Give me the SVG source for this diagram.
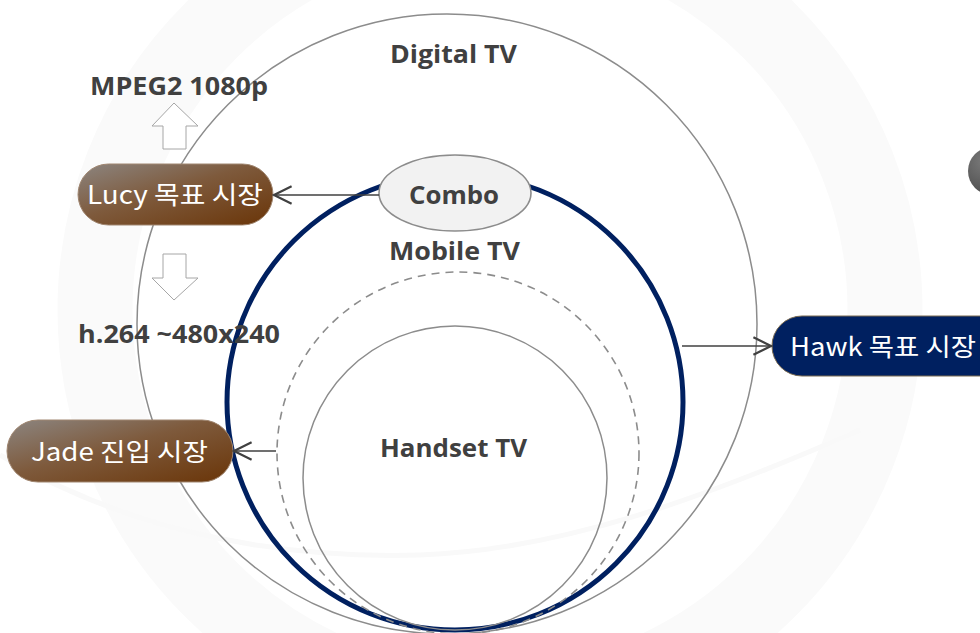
<svg xmlns="http://www.w3.org/2000/svg" width="980" height="633" viewBox="0 0 980 633">
  <defs>
    <linearGradient id="brownFill" x1="0" y1="0" x2="1" y2="1">
      <stop offset="0" stop-color="#8c8580"/>
      <stop offset="0.45" stop-color="#7e5a3c"/>
      <stop offset="1" stop-color="#6a3508"/>
    </linearGradient>
    <radialGradient id="greyBall" cx="0.35" cy="0.3" r="0.8">
      <stop offset="0" stop-color="#7a7a7a"/>
      <stop offset="1" stop-color="#4a4a4a"/>
    </radialGradient>
    <marker id="openHead" viewBox="0 0 20 20" refX="18" refY="10" markerWidth="22" markerHeight="22" markerUnits="userSpaceOnUse" orient="auto">
      <path d="M2,2 L18,10 L2,18" fill="none" stroke="#404040" stroke-width="2"/>
    </marker>
    <style>
      .ring { fill: none; stroke: #8c8c8c; stroke-width: 1.5; }
      .label { font-family: "Open Sans", "Noto Sans", "Noto Sans CJK KR", sans-serif; font-weight: 700; fill: #404040; font-size: 25.5px; }
      .pilltext { font-family: "Noto Sans CJK KR", "Noto Sans", sans-serif; font-weight: 400; fill: #ffffff; font-size: 25px; }
      .block { fill: #ffffff; stroke: #a6a6a6; stroke-width: 1; }
      .link { stroke: #404040; stroke-width: 1.6; fill: none; marker-end: url(#openHead); }
    </style>
  </defs>

  <!-- faint background swooshes -->
  <g id="backdrop" fill="none">
    <circle cx="490" cy="310" r="395" stroke="#fafafa" stroke-width="75"/>
    <path d="M0,455 C110,520 250,560 420,555 C560,550 700,500 860,430" stroke="#f9f9f9" stroke-width="5"/>
  </g>

  <!-- market circles -->
  <g id="digital-tv">
    <circle class="ring" cx="447" cy="324" r="310"/>
    <text class="label" x="390" y="63" textLength="127" lengthAdjust="spacingAndGlyphs">Digital TV</text>
  </g>

  <g id="mobile-tv">
    <circle cx="455" cy="402" r="228" fill="none" stroke="#002060" stroke-width="5"/>
    <text class="label" x="389" y="260" textLength="131" lengthAdjust="spacingAndGlyphs">Mobile TV</text>
  </g>

  <g id="mobile-tv-inner">
    <circle cx="458" cy="453" r="181" fill="none" stroke="#8c8c8c" stroke-width="1.6" stroke-dasharray="8 6"/>
  </g>

  <g id="handset-tv">
    <circle class="ring" cx="455" cy="478" r="152"/>
    <text class="label" x="380" y="457" textLength="147" lengthAdjust="spacingAndGlyphs">Handset TV</text>
  </g>

  <g id="combo">
    <ellipse cx="455" cy="193" rx="76" ry="38" fill="#f2f2f2" stroke="#8c8c8c" stroke-width="1.6"/>
    <text class="label" x="409" y="204" font-size="27" textLength="90" lengthAdjust="spacingAndGlyphs">Combo</text>
  </g>

  <!-- codec labels and block arrows -->
  <g id="mpeg2-label">
    <text class="label" x="90" y="95" textLength="178" lengthAdjust="spacingAndGlyphs">MPEG2 1080p</text>
  </g>
  <g id="up-arrow">
    <polygon class="block" points="174,103 198,126 186,126 186,149 163,149 163,126 152,126"/>
  </g>
  <g id="down-arrow">
    <polygon class="block" points="163,254 186,254 186,278 198,278 174,300 152,278 163,278"/>
  </g>
  <g id="h264-label">
    <text class="label" x="78" y="343" textLength="202" lengthAdjust="spacingAndGlyphs">h.264 ~480x240</text>
  </g>

  <!-- target market pills -->
  <g id="lucy">
    <rect x="78" y="164" width="195" height="61" rx="30.5" fill="url(#brownFill)" stroke="#a08670" stroke-width="1"/>
    <text class="pilltext" x="87" y="204" textLength="176" lengthAdjust="spacingAndGlyphs">Lucy 목표 시장</text>
  </g>

  <g id="jade">
    <rect x="7" y="420" width="226" height="62" rx="31" fill="url(#brownFill)" stroke="#a08670" stroke-width="1"/>
    <text class="pilltext" x="31" y="461" textLength="177" lengthAdjust="spacingAndGlyphs">Jade 진입 시장</text>
  </g>

  <g id="hawk">
    <rect x="772" y="316" width="240" height="60" rx="30" fill="#002060" stroke="#7a6a50" stroke-width="1"/>
    <text class="pilltext" x="790" y="356" textLength="186" lengthAdjust="spacingAndGlyphs">Hawk 목표 시장</text>
  </g>

  <g id="side-ball">
    <circle cx="992" cy="171" r="24" fill="url(#greyBall)"/>
  </g>

  <!-- connectors -->
  <g id="connectors">
    <line class="link" x1="379" y1="195" x2="274" y2="195"/>
    <line class="link" x1="276" y1="451" x2="234" y2="451"/>
    <line class="link" x1="682" y1="346" x2="771" y2="346"/>
  </g>
</svg>
